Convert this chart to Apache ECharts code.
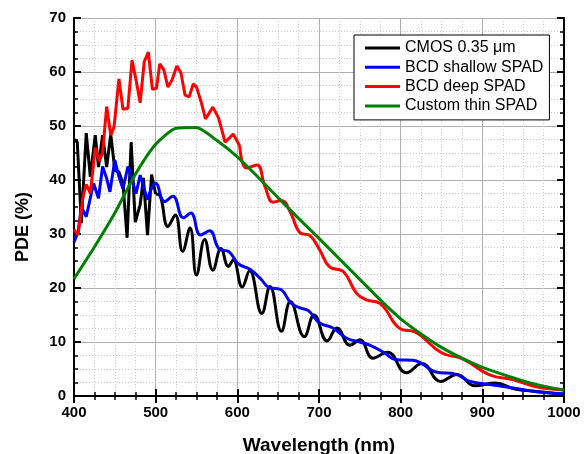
<!DOCTYPE html>
<html>
<head>
<meta charset="utf-8">
<script src="https://cdn.jsdelivr.net/npm/echarts@6/dist/echarts.min.js"></script>
<style>
html,body{margin:0;padding:0;background:#fff;}
#chart{width:584px;height:454px;}
</style>
</head>
<body>
<div id="chart"></div>
<script>
// ---- Data ----
const seriesNames = ['CMOS 0.35 \u03bcm', 'BCD shallow SPAD', 'BCD deep SPAD', 'Custom thin SPAD'];

// CMOS 0.35 um : jagged part, then smooth oscillating part
const cmosJagWl  = [400, 404, 409, 415, 420, 426, 430, 435, 440, 445, 450, 455, 460, 465, 470, 475, 481, 485, 490, 495, 500];
const cmosJagPde = [47.5, 47, 32, 48.7, 40.6, 48.3, 42.4, 48.3, 42.4, 48.5, 41.8, 41.5, 39.4, 29.3, 47, 32.2, 35.4, 40.4, 29.8, 41, 37.4];
const cmosSmWl  = [500, 505, 515, 524, 533, 542, 550, 560, 570, 580, 589, 595, 606, 615, 630, 640, 654, 665, 682, 694, 710, 722, 738, 750, 766, 784, 807, 826, 849, 869, 891, 916, 940, 970, 1000];
const cmosSmPde = [37.4, 37.2, 31.4, 33.5, 26.8, 31.1, 22.4, 29, 23.3, 27.3, 24, 25.2, 20.2, 23.2, 15.3, 20.3, 12, 17.5, 11, 15, 10.2, 12.6, 9.4, 10.4, 7, 8.1, 4.3, 6, 2.7, 4, 1.9, 2.4, 1.3, 0.8, 0.3];

// BCD shallow SPAD
const shallowJagWl  = [400, 405, 409, 415, 424, 430, 435, 440, 444, 450, 455, 460, 466, 476, 481, 490];
const shallowJagPde = [28.5, 30.4, 35, 33.2, 39.4, 36.6, 42.5, 40.3, 37.8, 43.7, 40.6, 38.4, 42.5, 37.5, 40.9, 36.3];
const shallowSmWl  = [490, 500, 511, 521, 534, 543, 555, 566, 578, 590, 601, 615, 628, 640, 652, 666, 677, 687, 701, 717, 734, 750, 762, 779, 795, 815, 826, 842, 868, 885, 915, 938, 966, 1000];
const shallowSmPde = [36.3, 39.4, 36, 37, 33, 33.9, 29.8, 30.6, 27.2, 26.7, 24.5, 23.5, 21.8, 20, 19.8, 17.2, 16.3, 15.8, 13.5, 12.6, 10.7, 10, 9.4, 8.1, 6.7, 6.6, 6, 4.5, 4, 2.7, 2, 1.5, 0.8, 0.4];

// BCD deep SPAD
const deepJagWl  = [400, 405, 411, 415, 420, 426, 431, 435, 440, 445, 449, 455, 460, 466, 471, 476, 481, 486, 491, 496, 501, 505, 510, 515, 520, 526, 531, 536, 541, 546, 550, 556, 561, 570, 577, 585, 595, 603];
const deepJagPde = [30.8, 29.8, 36.9, 39.2, 37.5, 46, 43.5, 45, 53.6, 48.3, 49.8, 58.7, 53.1, 53.3, 62.2, 58.5, 54.3, 61.9, 63.7, 56.8, 57, 61.5, 60.4, 57.2, 58.5, 61.1, 59.8, 55.7, 55.4, 57.8, 57.2, 54.3, 51.3, 53.5, 51.5, 47, 48.5, 46.3];
const deepSmWl  = [603, 611, 624, 634, 644, 654, 665, 677, 689, 701, 713, 730, 746, 758, 775, 800, 817, 850, 877, 909, 938, 966, 1000];
const deepSmPde = [46.3, 42.2, 42.8, 38.7, 35.9, 36.2, 34, 30.2, 29.7, 27, 23.9, 23, 19, 17.8, 17.1, 12.4, 11.9, 8, 6.8, 3.9, 3, 1.7, 1.1];

// Custom thin SPAD
const thinWl  = [400, 425, 450, 475, 500, 525, 550, 575, 600, 625, 650, 675, 700, 725, 750, 775, 800, 825, 850, 875, 900, 925, 950, 975, 1000];
const thinPde = [21.7, 27.6, 33.9, 41, 46.6, 49.6, 49.7, 47.3, 44.3, 40.6, 36.7, 32.9, 29.2, 25.4, 21.6, 17.8, 14.3, 11.5, 9, 7, 5.3, 4, 2.8, 1.8, 1.1];

// Axis ticks
const xMin = 400, xMax = 1000, xStep = 100;
const yMin = 0, yMax = 70, yStep = 10;

// ---- Build ----
function zip(a, b) { return a.map((v, i) => [v, b[i]]); }
const colors = ['#000000', '#0000ff', '#ff0000', '#008000'];
const FONT = '"Liberation Sans", Arial, sans-serif';

function lineSeries(name, color, data, smooth) {
  return {
    type: 'line', name: name, data: data, smooth: smooth,
    symbol: 'none', showSymbol: false, animation: false,
    lineStyle: { color: color, width: 3 }, itemStyle: { color: color },
    xAxisIndex: 0, yAxisIndex: 0
  };
}

const mainAxisCommon = {
  axisLine: { show: true, lineStyle: { color: '#000', width: 2 } },
  axisTick: { show: true, inside: true, length: 7, lineStyle: { color: '#000', width: 2 } },
  minorTick: { show: true, splitNumber: 4, length: 4, lineStyle: { color: '#000', width: 1.5 } },
  splitLine: { show: true, lineStyle: { color: '#b0b0b0', width: 1 } },
  minorSplitLine: { show: true, lineStyle: { color: '#cccccc', width: 1, type: [1, 2] } },
  axisLabel: { color: '#000', fontFamily: FONT, fontWeight: 'bold', fontSize: 15, formatter: v => String(v) }
};
const mirrorAxisCommon = {
  axisLine: { show: true, lineStyle: { color: '#000', width: 2 } },
  axisTick: { show: true, inside: true, length: 7, lineStyle: { color: '#000', width: 2 } },
  minorTick: { show: true, splitNumber: 4, length: 4, lineStyle: { color: '#000', width: 1.5 } },
  splitLine: { show: false }, minorSplitLine: { show: false },
  axisLabel: { show: false }
};

const option = {
  backgroundColor: '#fff',
  animation: false,
  grid: { left: 74, right: 20, top: 18, bottom: 58, containLabel: false, outerBoundsMode: 'none' },
  legend: {
    data: seriesNames,
    orient: 'vertical', left: 354, top: 35,
    icon: 'rect',
    padding: [5, 6, 6, 11], itemGap: 3.3, itemWidth: 35, itemHeight: 3,
    backgroundColor: '#fff', borderColor: '#000', borderWidth: 1, borderRadius: 0,
    textStyle: { fontFamily: FONT, fontSize: 16, color: '#000' },
    selectedMode: false
  },
  xAxis: [
    Object.assign({
      type: 'value', position: 'bottom', min: xMin, max: xMax, interval: xStep,
      name: 'Wavelength (nm)', nameLocation: 'middle', nameGap: 40,
      nameTextStyle: { fontFamily: FONT, fontWeight: 'bold', fontSize: 19, color: '#000' }
    }, mainAxisCommon, { axisLabel: Object.assign({}, mainAxisCommon.axisLabel, { margin: 9 }) }),
    Object.assign({ type: 'value', position: 'top', min: xMin, max: xMax, interval: xStep }, mirrorAxisCommon)
  ],
  yAxis: [
    Object.assign({
      type: 'value', position: 'left', min: yMin, max: yMax, interval: yStep,
      name: 'PDE (%)', nameLocation: 'middle', nameGap: 42,
      nameTextStyle: { fontFamily: FONT, fontWeight: 'bold', fontSize: 18, color: '#000', padding: [0, 40, 0, 0] }
    }, mainAxisCommon, { axisLabel: Object.assign({}, mainAxisCommon.axisLabel, { margin: 8 }) }),
    Object.assign({ type: 'value', position: 'right', min: yMin, max: yMax, interval: yStep }, mirrorAxisCommon)
  ],
  series: [
    lineSeries(seriesNames[0], colors[0], zip(cmosJagWl, cmosJagPde), false),
    lineSeries(seriesNames[0], colors[0], zip(cmosSmWl, cmosSmPde), 0.45),
    lineSeries(seriesNames[1], colors[1], zip(shallowJagWl, shallowJagPde), false),
    lineSeries(seriesNames[1], colors[1], zip(shallowSmWl, shallowSmPde), 0.45),
    lineSeries(seriesNames[2], colors[2], zip(deepJagWl, deepJagPde), false),
    lineSeries(seriesNames[2], colors[2], zip(deepSmWl, deepSmPde), 0.45),
    lineSeries(seriesNames[3], colors[3], zip(thinWl, thinPde), 0.2)
  ]
};

const chart = echarts.init(document.getElementById('chart'), null, { renderer: 'canvas' });
chart.setOption(option);
</script>
</body>
</html>
